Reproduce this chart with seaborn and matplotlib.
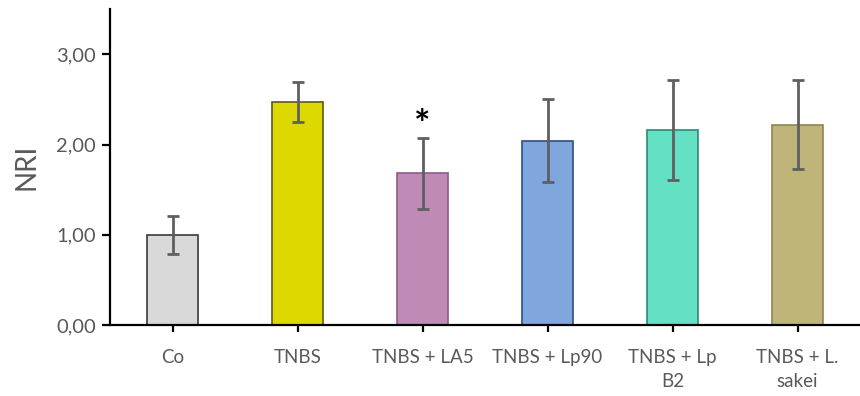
import numpy as np
import pandas as pd
import matplotlib
matplotlib.use("Agg")
import matplotlib.pyplot as plt
import seaborn as sns

# data
groups = ["Co", "TNBS", "TNBS + LA5", "TNBS + Lp90", "TNBS + Lp\nB2", "TNBS + L.\nsakei"]
nri = [1.00, 2.47, 1.68, 2.04, 2.16, 2.22]
err = [0.21, 0.22, 0.39, 0.46, 0.55, 0.49]
fills = ["#D9D9D9", "#DDD900", "#C08AB6", "#7FA7DD", "#64E0C5", "#BFB47A"]
edges = ["#3A3A3A", "#5A5A10", "#8E5A86", "#2F4F80", "#2E8A72", "#8F8550"]
yticks = [0, 1, 2, 3]
ytick_labels = ["0,00", "1,00", "2,00", "3,00"]

sns.set_style("white")
plt.rcParams["font.family"] = ["Lato", "DejaVu Sans"]

df = pd.DataFrame({"group": groups, "nri": nri})

fig = plt.figure(figsize=(8.6, 3.96), dpi=100)
ax = fig.add_axes([0.128, 0.179, 0.872, 0.798])

sns.barplot(data=df, x="group", y="nri", hue="group", palette=fills,
            width=0.41, legend=False, ax=ax, saturation=1)
for patch, ec in zip(ax.patches, edges):
    patch.set_edgecolor(ec)
    patch.set_linewidth(1.2)

ax.errorbar(np.arange(len(groups)), nri, yerr=err, fmt="none",
            ecolor="#5F5F5F", elinewidth=2, capsize=4.5, capthick=2)

# significance mark above LA5
ax.text(2, nri[2] + err[2] + 0.14, "*", ha="center", va="center",
        fontsize=28, fontweight="bold", color="black")

ax.set_xlim(-0.5, len(groups) - 0.5)
ax.set_ylim(0, 3.5)
ax.set_yticks(yticks)
ax.set_yticklabels(ytick_labels)
ax.set_xticks(np.arange(len(groups)))
ax.set_xticklabels(groups)
ax.set_xlabel("")
ax.set_ylabel("NRI", fontsize=20, color="#595959", labelpad=12)

sns.despine(ax=ax)
for s in ["left", "bottom"]:
    ax.spines[s].set_linewidth(1.6)
    ax.spines[s].set_color("black")
ax.tick_params(axis="y", direction="out", length=6, width=1.6, color="black",
               labelsize=14.5, labelcolor="#595959", left=True, pad=4)
ax.tick_params(axis="x", direction="out", length=5, width=1.6, color="black",
               labelsize=13.5, labelcolor="#595959", bottom=True, pad=12)
for tick in ax.xaxis.get_major_ticks():
    tick.label1.set_linespacing(1.5)

fig.savefig("out.png", dpi=100)
